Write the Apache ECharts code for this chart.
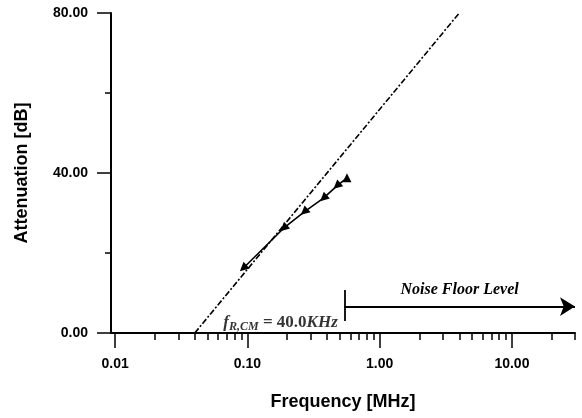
<!DOCTYPE html>
<html>
<head>
<meta charset="utf-8">
<script src="https://cdn.jsdelivr.net/npm/echarts@6/dist/echarts.min.js"></script>
<style>
  html, body { margin: 0; padding: 0; background: #fff; }
  #chart { width: 582px; height: 418px; }
</style>
</head>
<body>
<div id="chart"></div>
<script>
// measured attenuation points [MHz, dB]
const measuredFreq = [0.093, 0.188, 0.269, 0.376, 0.475, 0.566];
const measuredDb = [16.2, 26.2, 30.3, 33.7, 36.8, 38.8];

// 40 dB/decade fit line starting at f_R,CM
const fitFreq = [0.04, 4];
const fitDb = [0, 80];

// noise floor marker
const noiseStartFreq = 0.54;
const noiseEndFreq = 30;
const noiseDb = 6.6;
const noiseBarDb = [3, 10.75];
const cornerLabelDb = 2.6;

// axis ticks
const xMajorTicks = [0.01, 0.1, 1, 10];
const xMinorTicks = [
  0.02, 0.03, 0.04, 0.05, 0.06, 0.07, 0.08, 0.09,
  0.2, 0.3, 0.4, 0.5, 0.6, 0.7, 0.8, 0.9,
  2, 3, 4, 5, 6, 7, 8, 9,
  20, 30,
];
const xMin = 0.0093;
const xMax = 30;

const SANS = "'Liberation Sans', Arial, sans-serif";
const SERIF = "'Liberation Serif', 'Times New Roman', serif";

const chart = echarts.init(document.getElementById("chart"));

const option = {
  backgroundColor: "#fff",
  animation: false,
  grid: { left: 111, right: 7, top: 13, bottom: 85, containLabel: false },
  xAxis: [
    {
      type: "log",
      min: xMin,
      max: xMax,
      name: "Frequency [MHz]",
      nameLocation: "middle",
      nameGap: 60,
      nameTextStyle: { fontFamily: SANS, fontWeight: "bold", fontSize: 18, color: "#000" },
      axisLine: { show: true, lineStyle: { color: "#000", width: 2 } },
      axisTick: { show: true, length: 15, customValues: xMajorTicks, lineStyle: { color: "#000", width: 1.5 } },
      axisLabel: {
        customValues: xMajorTicks,
        margin: 24,
        fontFamily: SANS,
        fontWeight: "bold",
        fontSize: 14,
        color: "#000",
        formatter: (v) => Number(v).toFixed(2),
      },
      splitLine: { show: false },
    },
    {
      type: "log",
      min: xMin,
      max: xMax,
      position: "bottom",
      offset: 0,
      axisLine: { show: false },
      axisTick: { show: true, length: 7, customValues: xMinorTicks, lineStyle: { color: "#000", width: 1.5 } },
      axisLabel: { show: false },
      splitLine: { show: false },
    },
  ],
  yAxis: {
    type: "value",
    min: 0,
    max: 80,
    interval: 40,
    name: "Attenuation [dB]",
    nameLocation: "middle",
    nameGap: 80,
    nameTextStyle: { fontFamily: SANS, fontWeight: "bold", fontSize: 18, color: "#000" },
    axisLine: { show: true, lineStyle: { color: "#000", width: 2 } },
    axisTick: { show: true, length: 14, lineStyle: { color: "#000", width: 1.5 } },
    minorTick: { show: true, splitNumber: 2, length: 6, lineStyle: { color: "#000", width: 1.5 } },
    axisLabel: {
      margin: 23,
      fontFamily: SANS,
      fontWeight: "bold",
      fontSize: 14,
      color: "#000",
      formatter: (v) => v.toFixed(2),
    },
    splitLine: { show: false },
  },
  series: [
    {
      name: "fit",
      type: "line",
      data: fitFreq.map((f, i) => [f, fitDb[i]]),
      showSymbol: false,
      symbol: "none",
      lineStyle: { color: "#000", width: 1.6, type: [6, 2, 2, 2] },
      z: 2,
    },
    {
      name: "measured",
      type: "line",
      data: measuredFreq.map((f, i) => [f, measuredDb[i]]),
      symbol: "triangle",
      symbolSize: 9,
      symbolRotate: (v, p) => (p.dataIndex === measuredFreq.length - 1 ? 0 : 132),
      itemStyle: { color: "#000" },
      lineStyle: { color: "#000", width: 1.6 },
      z: 3,
    },
    {
      name: "noise",
      type: "line",
      data: [],
      markLine: {
        silent: true,
        symbol: ["none", "arrow"],
        symbolSize: [14, 15],
        lineStyle: { color: "#000", width: 1.8, type: "solid" },
        label: { show: false },
        data: [
          [
            {
              coord: [noiseStartFreq, noiseDb],
              label: {
                show: true,
                position: "middle",
                distance: 9,
                formatter: "Noise Floor Level",
                fontFamily: SERIF,
                fontStyle: "italic",
                fontWeight: "bold",
                fontSize: 16,
                color: "#000",
              },
            },
            { coord: [noiseEndFreq, noiseDb] },
          ],
          [
            { coord: [noiseStartFreq, noiseBarDb[0]], symbol: "none" },
            { coord: [noiseStartFreq, noiseBarDb[1]], symbol: "none" },
          ],
        ],
      },
    },
    {
      name: "corner",
      type: "scatter",
      data: [[noiseStartFreq, cornerLabelDb]],
      symbolSize: 1,
      itemStyle: { color: "rgba(0,0,0,0)" },
      silent: true,
      label: {
        show: true,
        position: "left",
        distance: 6,
        color: "#000",
        formatter: "{f|f}{sub|R,CM}{n| = 40.0}{k|KHz}",
        rich: {
          f: { fontFamily: SERIF, fontStyle: "italic", fontWeight: "bold", fontSize: 17, color: "#000" },
          sub: { fontFamily: SERIF, fontStyle: "italic", fontWeight: "bold", fontSize: 12, color: "#000", padding: [8, 0, 0, 0] },
          n: { fontFamily: SERIF, fontWeight: "bold", fontSize: 17, color: "#000" },
          k: { fontFamily: SERIF, fontStyle: "italic", fontWeight: "bold", fontSize: 17, color: "#000" },
        },
      },
    },
  ],
};

chart.setOption(option);
</script>
</body>
</html>
